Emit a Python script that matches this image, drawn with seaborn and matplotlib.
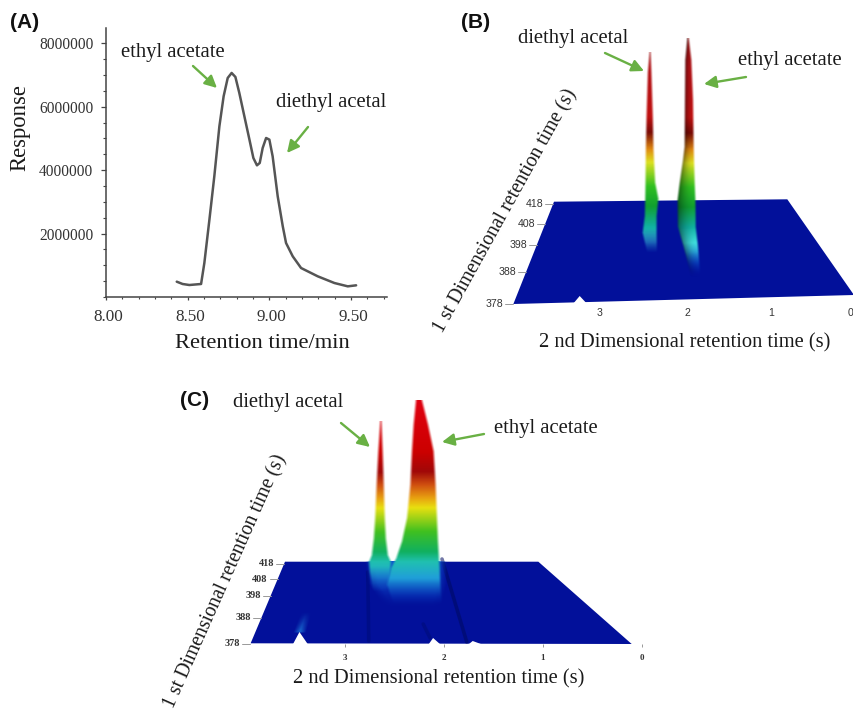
import numpy as np
import seaborn as sns
import matplotlib.pyplot as plt
from matplotlib.colors import LinearSegmentedColormap, to_rgb
from matplotlib.ticker import MultipleLocator
from matplotlib.transforms import ScaledTranslation

sns.set_theme(style="ticks")
plt.rcParams["font.family"] = ["Liberation Serif", "DejaVu Serif"]

W, H = 854, 710
GREEN = "#69b044"
FLOOR = "#02109a"

# panel A
rt_min = [8.433, 8.469, 8.510, 8.582, 8.602, 8.633, 8.663, 8.694, 8.720, 8.745, 8.769,
          8.792, 8.816, 8.847, 8.878, 8.902, 8.924, 8.941, 8.959, 8.980, 9.000, 9.020,
          9.051, 9.082, 9.102, 9.143, 9.194, 9.296, 9.398, 9.480, 9.531]
response = [483000, 410000, 378000, 410000, 1072000, 2438000, 3805000, 5380000, 6327000,
            6905000, 7063000, 6937000, 6432000, 5696000, 4961000, 4383000, 4151000,
            4225000, 4698000, 5013000, 4961000, 4435000, 3174000, 2228000, 1703000,
            1282000, 914000, 652000, 441000, 336000, 368000]
a_xticks = [8.0, 8.5, 9.0, 9.5]
a_xlabels = ["8.00", "8.50", "9.00", "9.50"]
a_yticks = [2000000, 4000000, 6000000, 8000000]

# panels B and C: x is 2nd dimension time, y is height above the front edge of the floor
first_dim = [378, 388, 398, 408, 418]

b_floor_t = [3.574, 0.813, 0.024, 4.055]
b_floor_h = [102.3, 104.7, 9.0, 0.0]
b_first_h = [0, 32, 59, 80, 100]
b_second_t = [3.03, 2, 1, 0.07]
b_di_h = [250.7, 230.7, 187.3, 154, 120.7, 104.7, 87.3, 70.7, 50.7]
b_di_l = [2.45, 2.47, 2.485, 2.493, 2.497, 2.50, 2.505, 2.529, 2.477]
b_di_r = [2.44, 2.43, 2.414, 2.406, 2.387, 2.351, 2.371, 2.371, 2.367]
b_et_h = [265.7, 244, 204, 157.3, 144, 120.7, 104, 77.3, 57.3, 27.3]
b_et_l = [1.992, 2.016, 2.020, 2.024, 2.043, 2.083, 2.107, 2.103, 2.036, 1.945]
b_et_r = [1.976, 1.945, 1.925, 1.917, 1.913, 1.905, 1.897, 1.893, 1.866, 1.838]
b_stop_h = [27, 41, 61, 77, 97, 117, 141, 154, 171, 187, 237, 266]
b_stop_c = [FLOOR, "#1060d0", "#40e0e0", "#10b0a0", "#10a030", "#30c020", "#dde020",
            "#e08a10", "#7a0a05", "#c01010", "#b01015", "#8a1010"]
b_notch_t = [3.36, 3.27, 3.17]
b_notch_h = [-1, 8, -1]

c_floor_t = [3.606, 1.047, 0.104, 3.953]
c_floor_h = [82.3, 82.3, 0.0, 0.7]
c_first_h = [0, 26, 48, 65, 80]
c_second_t = [3, 2, 1, 0]
c_di_h = [223, 192.3, 159, 125.7, 105.7, 89, 82.3, 72.3, 52.3]
c_di_l = [2.643, 2.663, 2.680, 2.694, 2.707, 2.727, 2.754, 2.747, 2.714]
c_di_r = [2.633, 2.620, 2.609, 2.599, 2.589, 2.569, 2.539, 2.545, 2.579]
c_et_h = [243.3, 219, 192.3, 159, 125.7, 102.3, 85.7, 75.7, 59, 39]
c_et_l = [2.286, 2.310, 2.327, 2.343, 2.377, 2.428, 2.485, 2.539, 2.579, 2.512]
c_et_r = [2.226, 2.165, 2.108, 2.088, 2.074, 2.064, 2.054, 2.047, 2.040, 2.024]
c_stop_h = [32, 46, 66, 82, 92, 112, 136, 146, 159, 172, 192, 243]
c_stop_c = [FLOOR, "#0840c0", "#20a0d8", "#20c0b0", "#10b060", "#40c020", "#e8e010",
            "#e8a010", "#d05010", "#a00808", "#cc0000", "#e00010"]
c_glow_h = [82, 60, 35]
c_glow_l = [2.75, 2.72, 2.55]
c_glow_r = [2.03, 2.03, 2.08]
c_glow_stop_h = [30, 60, 82]
c_glow_stop_c = [FLOOR, "#0a34b8", "#0f55d0"]
c_bump_h = [32, 11]
c_bump_l = [3.42, 3.50]
c_bump_r = [3.37, 3.43]
c_bump_stop_h = [11, 32]
c_bump_stop_c = ["#1a6ad0", FLOOR]
c_notch_t = [[3.53, 3.46, 3.37], [2.16, 2.11, 2.03], [1.76, 1.71, 1.60]]
c_notch_h = [[-1, 12, -1], [-1, 6, -1], [-1, 3, -1]]
c_streak_t = [[2.02, 1.77], [2.77, 2.76], [2.21, 2.14]]
c_streak_h = [[85, 2], [72, 3], [20, 6]]
c_streak_c = ["#000a60", "#000c78", "#000c78"]


def panel_axes(left, top, right, bottom, zorder=1):
    return fig.add_axes([left / W, 1 - bottom / H, (right - left) / W, (bottom - top) / H],
                        zorder=zorder)


def draw_peak(ax, heights, lefts, rights, cmap, h_lim, shade=0.0, fade=25, soft=0.03):
    order = np.argsort(heights)
    hs = np.asarray(heights)[order]
    ls = np.asarray(lefts)[order]
    rs = np.asarray(rights)[order]
    h_grid = np.linspace(hs[0], hs[-1], 500)
    t_grid = np.linspace(rs.min() - soft, ls.max() + soft, 240)
    tt, hh = np.meshgrid(t_grid, h_grid)
    l_row = np.interp(h_grid, hs, ls)[:, None]
    r_row = np.interp(h_grid, hs, rs)[:, None]
    img = cmap((hh - h_lim[0]) / (h_lim[1] - h_lim[0]))
    across = np.clip((tt - r_row) / (l_row - r_row), 0, 1)
    img[..., :3] *= (1 - shade * across ** 2)[..., None]
    alpha = np.clip((l_row + soft / 2 - tt) / soft, 0, 1) * np.clip((tt - r_row + soft / 2) / soft, 0, 1)
    img[..., 3] = alpha * np.clip((hh - hs[0]) / fade, 0, 1)
    ax.imshow(img, origin="lower", aspect="auto", interpolation="bilinear", zorder=3,
              extent=(t_grid[0], t_grid[-1], h_grid[0], h_grid[-1]))


def stop_cmap(stop_h, stop_c):
    lo, hi = stop_h[0], stop_h[-1]
    pts = [((h - lo) / (hi - lo), to_rgb(c)) for h, c in zip(stop_h, stop_c)]
    return LinearSegmentedColormap.from_list("peak", pts), (lo, hi)


def style_surface(ax, xlim, ylim, floor_t, floor_h, first_h, second_t, tick_font, tick_size,
                  pad, tick_len):
    ax.fill(floor_t, floor_h, color=FLOOR, lw=0, zorder=1)
    ax.set_xlim(*xlim)
    ax.set_ylim(*ylim)
    ax.patch.set_alpha(0)
    sns.despine(ax=ax, left=True, bottom=True)
    ax.set_yticks([])
    ax.set_xticks(second_t)
    ax.set_xticklabels([str(v) for v in [3, 2, 1, 0]], family=tick_font["family"],
                       weight=tick_font["weight"], fontsize=tick_size, color="#333333")
    ax.tick_params(axis="x", length=tick_len, width=0.6, color="#888888", pad=pad)
    # 1st dimension ticks sit along the slanted left edge of the floor
    back_t, back_h, front_t, front_h = floor_t[0], floor_h[0], floor_t[3], floor_h[3]
    per_px = (xlim[0] - xlim[1]) / (ax.get_position().width * W)
    for value, h in zip(first_dim, first_h):
        t_edge = front_t + (back_t - front_t) * (h - front_h) / (back_h - front_h)
        ax.plot([t_edge, t_edge + 8 * per_px], [h, h], color="#999999", lw=0.7, zorder=1,
                clip_on=False)
        ax.text(t_edge + 10 * per_px, h, str(value), ha="right", va="center",
                family=tick_font["family"], weight=tick_font["weight"], fontsize=tick_size,
                color="#333333")


fig = plt.figure(figsize=(W / 100, H / 100), dpi=100)

overlay = fig.add_axes([0, 0, 1, 1], zorder=10)
overlay.set_xlim(0, W)
overlay.set_ylim(H, 0)
overlay.axis("off")


def place_xlabel(ax, text, x, y, size):
    ax.set_xlabel(text, fontsize=size, color="#1a1a1a", va="center", ha="center")
    ax.xaxis.set_label_coords(x, y, transform=overlay.transData)


def place_ylabel(ax, text, x, y, size, rotation):
    ax.set_ylabel(text, fontsize=size, color="#1a1a1a", rotation=rotation, va="center",
                  ha="center", rotation_mode="anchor")
    ax.yaxis.set_label_coords(x, y, transform=overlay.transData)


def note(text, x, y):
    overlay.text(x, y, text, ha="center", va="center", fontsize=14.9, color="#1a1a1a")


def arrow(x0, y0, x1, y1):
    overlay.annotate("", xy=(x1, y1), xytext=(x0, y0),
                     arrowprops=dict(arrowstyle="-|>,head_width=0.3,head_length=0.6",
                                     color=GREEN, lw=1.7, shrinkA=0, shrinkB=0))


# (A)
ax_a = panel_axes(106, 28, 387, 297)
sns.lineplot(x=rt_min, y=response, ax=ax_a, color="#555555", lw=1.8, estimator=None, sort=False)
ax_a.set_xlim(8.0, 9.72)
ax_a.set_ylim(0, 8480000)
ax_a.set_xticks(a_xticks)
ax_a.set_xticklabels(a_xlabels, fontsize=12.3, color="#333333")
ax_a.set_yticks(a_yticks)
ax_a.set_yticklabels([str(v) for v in a_yticks], fontsize=11.2, color="#333333")
ax_a.xaxis.set_minor_locator(MultipleLocator(0.1))
ax_a.yaxis.set_minor_locator(MultipleLocator(500000))
ax_a.tick_params(axis="x", which="major", length=2.5, width=0.9, color="#444444", pad=6)
ax_a.tick_params(axis="x", which="minor", length=1.2, width=0.8, color="#444444")
ax_a.tick_params(axis="y", which="major", length=3.5, width=0.9, color="#444444", pad=5.5)
ax_a.tick_params(axis="y", which="minor", length=2.2, width=0.8, color="#444444")
for lab in ax_a.get_xticklabels():
    lab.set_transform(lab.get_transform() + ScaledTranslation(2.5 / 100, 0, fig.dpi_scale_trans))
for side in ["left", "bottom"]:
    ax_a.spines[side].set_color("#444444")
    ax_a.spines[side].set_linewidth(1.1)
sns.despine(ax=ax_a)
place_xlabel(ax_a, "Retention time/min", 262, 344, 16.2)
place_ylabel(ax_a, "Response", 20, 128, 16.3, 90)

sans_font = {"family": "Liberation Sans", "weight": "normal"}
serif_font = {"family": "Liberation Serif", "weight": "bold"}

# (B)
ax_b = panel_axes(505, 10, 870, 304)
b_cmap, b_lim = stop_cmap(b_stop_h, b_stop_c)
draw_peak(ax_b, b_di_h, b_di_l, b_di_r, b_cmap, b_lim)
draw_peak(ax_b, b_et_h, b_et_l, b_et_r, b_cmap, b_lim, shade=0.45)
ax_b.fill(b_notch_t, b_notch_h, color="white", lw=0, zorder=4)
style_surface(ax_b, (4.154, -0.166), (0, 294), b_floor_t, b_floor_h, b_first_h, b_second_t,
              sans_font, 7.6, 3, 0)
place_xlabel(ax_b, "2 nd Dimensional retention time (s)", 685, 343, 14.8)
place_ylabel(ax_b, "1 st Dimensional retention time (s)", 506, 211, 14.2, 61)

# (C)
ax_c = panel_axes(235, 390, 650, 644)
c_cmap, c_lim = stop_cmap(c_stop_h, c_stop_c)
glow_cmap, glow_lim = stop_cmap(c_glow_stop_h, c_glow_stop_c)
bump_cmap, bump_lim = stop_cmap(c_bump_stop_h, c_bump_stop_c)
for ts, hs, col in zip(c_streak_t, c_streak_h, c_streak_c):
    ax_c.plot(ts, hs, color=col, lw=2.6, alpha=0.55, zorder=2, solid_capstyle="round")
draw_peak(ax_c, c_bump_h, c_bump_l, c_bump_r, bump_cmap, bump_lim, fade=1, soft=0.06)
draw_peak(ax_c, c_glow_h, c_glow_l, c_glow_r, glow_cmap, glow_lim, fade=20, soft=0.1)
draw_peak(ax_c, c_et_h, c_et_l, c_et_r, c_cmap, c_lim)
draw_peak(ax_c, c_di_h, c_di_l, c_di_r, c_cmap, c_lim)
for ts, hs in zip(c_notch_t, c_notch_h):
    ax_c.fill(ts, hs, color="white", lw=0, zorder=4)
style_surface(ax_c, (4.111, -0.081), (0, 254), c_floor_t, c_floor_h, c_first_h, c_second_t,
              serif_font, 7.4, 5, 2)
for lab in ax_c.get_xticklabels():
    lab.set_fontsize(6.5)
place_xlabel(ax_c, "2 nd Dimensional retention time (s)", 439, 679, 14.8)
place_ylabel(ax_c, "1 st Dimensional retention time (s)", 226, 581, 14.2, 66)

# panel tags, peak names and arrows
for tag, x, y in [("(A)", 10, 23), ("(B)", 461, 23), ("(C)", 180, 400)]:
    overlay.text(x, y, tag, family="Liberation Sans", weight="bold", fontsize=15,
                 ha="left", va="center", color="#111111")

note("ethyl acetate", 173, 52)
note("diethyl acetal", 331, 103)
note("diethyl acetal", 573, 38)
note("ethyl acetate", 790, 60)
note("diethyl acetal", 288, 402)
note("ethyl acetate", 546, 428)

arrow(193, 66, 217, 88)
arrow(308, 127, 287, 153)
arrow(605, 53, 644, 71)
arrow(746, 77, 704, 84)
arrow(341, 423, 370, 447)
arrow(484, 434, 442, 442)

fig.savefig("out.png", dpi=100)
